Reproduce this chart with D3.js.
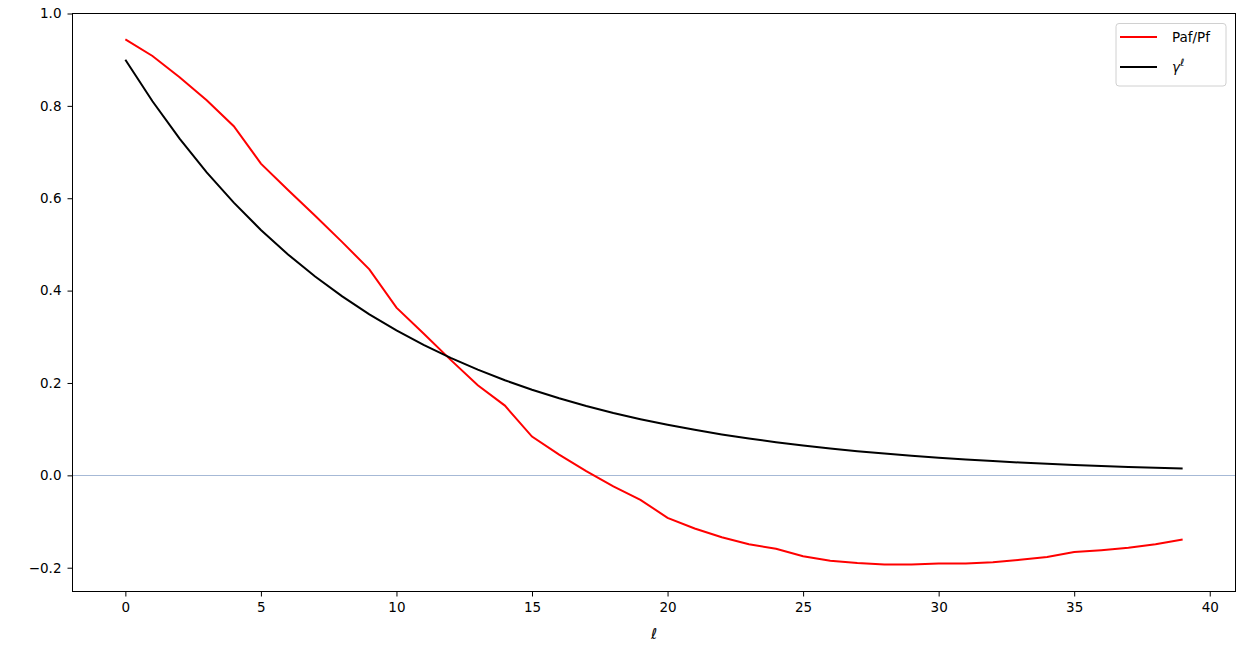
<!DOCTYPE html>
<html>
<head>
<meta charset="utf-8">
<script src="https://cdn.jsdelivr.net/npm/d3@7"></script>
<style>
  body { margin: 0; background: #fff; }
  svg { font-family: "DejaVu Sans", sans-serif; }
</style>
</head>
<body>
<div id="chart"></div>
<script>
// lag values
var lags = d3.range(0, 40);

// Paf/Pf ratio
var pafRatio = [0.944, 0.908, 0.862, 0.812, 0.756, 0.675, 0.618, 0.562, 0.505, 0.446,
                0.363, 0.307, 0.250, 0.195, 0.151, 0.084, 0.045, 0.009, -0.024, -0.053,
                -0.092, -0.115, -0.134, -0.149, -0.159, -0.175, -0.185, -0.190, -0.193, -0.193,
                -0.191, -0.191, -0.188, -0.183, -0.177, -0.166, -0.162, -0.157, -0.149, -0.139];

// gamma^l curve
var gammaPow = [0.9, 0.81, 0.729, 0.6561, 0.5905, 0.5314, 0.4783, 0.4305, 0.3874, 0.3487,
                0.3138, 0.2824, 0.2542, 0.2288, 0.2059, 0.1853, 0.1668, 0.1501, 0.1351, 0.1216,
                0.1094, 0.0985, 0.0886, 0.0798, 0.0718, 0.0646, 0.0581, 0.0523, 0.0471, 0.0424,
                0.0382, 0.0343, 0.0309, 0.0278, 0.0250, 0.0225, 0.0203, 0.0182, 0.0164, 0.0148];

var xTicks = [0, 5, 10, 15, 20, 25, 30, 35, 40];
var yTicks = [-0.2, 0.0, 0.2, 0.4, 0.6, 0.8, 1.0];

var chart_width = 1249, chart_height = 649;
var plotLeft = 72.5, plotRight = 1235.5, plotTop = 13.5, plotBottom = 591.5;

var svg = d3.select('#chart').append('svg')
  .attr('width', chart_width).attr('height', chart_height);

var x = d3.scaleLinear().domain([-1.95, 40.95]).range([plotLeft, plotRight]);
var y = d3.scaleLinear().domain([-0.2515, 1.0]).range([plotBottom, plotTop]);

// zero line
svg.append('line')
  .attr('x1', plotLeft).attr('x2', plotRight)
  .attr('y1', 475.5).attr('y2', 475.5)
  .attr('stroke', '#a6b9d6').attr('stroke-width', 1);

var line = d3.line()
  .x(function(d, i) { return x(lags[i]); })
  .y(function(d) { return y(d); });

svg.append('path').datum(pafRatio)
  .attr('d', line).attr('fill', 'none')
  .attr('stroke', '#ff0000').attr('stroke-width', 2);

svg.append('path').datum(gammaPow)
  .attr('d', line).attr('fill', 'none')
  .attr('stroke', '#000').attr('stroke-width', 2);

// axes
var xAxis = d3.axisBottom(x).tickValues(xTicks).tickSize(5).tickPadding(6)
  .tickFormat(d3.format('d'));
var yAxis = d3.axisLeft(y).tickValues(yTicks).tickSize(5).tickPadding(6)
  .tickFormat(function(d) { return d3.format('.1f')(d).replace('-', '\u2212'); });

var gx = svg.append('g').attr('transform', 'translate(0,' + plotBottom + ')').call(xAxis);
var gy = svg.append('g').attr('transform', 'translate(' + plotLeft + ',0)').call(yAxis);
[gx, gy].forEach(function(g) {
  g.select('.domain').remove();
  g.selectAll('text').attr('font-size', 13.5).attr('fill', '#000')
    .attr('font-family', '"DejaVu Sans", sans-serif');
  g.selectAll('line').attr('stroke', '#000').attr('stroke-width', 1);
});

// frame
svg.append('rect')
  .attr('x', plotLeft).attr('y', plotTop)
  .attr('width', plotRight - plotLeft).attr('height', plotBottom - plotTop)
  .attr('fill', 'none').attr('stroke', '#000').attr('stroke-width', 1);

// x label
svg.append('text')
  .attr('x', (plotLeft + plotRight) / 2).attr('y', 639)
  .attr('text-anchor', 'middle')
  .attr('font-size', 15).attr('font-style', 'italic')
  .text('\u2113');

// legend
var lg = svg.append('g');
lg.append('rect')
  .attr('x', 1116).attr('y', 23.5).attr('width', 110).attr('height', 62.5)
  .attr('rx', 3).attr('fill', '#fff').attr('fill-opacity', 0.8)
  .attr('stroke', '#d0d0d0').attr('stroke-width', 1);

var legendItems = [
  { label: 'Paf/Pf', color: '#ff0000' },
  { label: 'gamma', color: '#000' }
];
legendItems.forEach(function(item, i) {
  var ly = 37 + i * 30;
  lg.append('line')
    .attr('x1', 1120).attr('x2', 1157).attr('y1', ly).attr('y2', ly)
    .attr('stroke', item.color).attr('stroke-width', 2);
  var t = lg.append('text').attr('x', 1172).attr('y', ly + 5).attr('font-size', 13.5);
  if (item.label === 'gamma') {
    t.append('tspan').attr('font-style', 'italic').text('\u03b3');
    t.append('tspan').attr('font-style', 'italic').attr('font-size', 10)
      .attr('dy', -6).text('\u2113');
  } else {
    t.text(item.label);
  }
});
</script>
</body>
</html>
